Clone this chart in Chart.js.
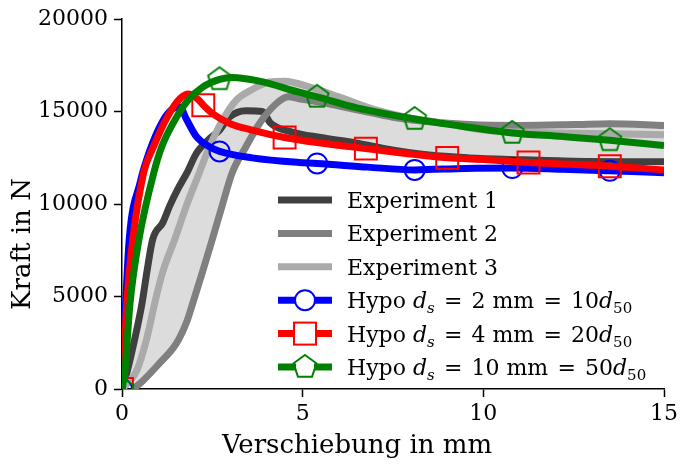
<!DOCTYPE html>
<html>
<head>
<meta charset="utf-8">
<script src="https://cdn.jsdelivr.net/npm/chart.js@4.4.0/dist/chart.umd.min.js"></script>
<style>
  html, body { margin: 0; padding: 0; background: #fff; }
</style>
</head>
<body>
<canvas id="kraftChart" width="682" height="466"></canvas>
<script>
// Werte: Verschiebung in mm (x), Kraft in N (y)
const exp1X = [0, 0.15, 0.36, 0.55, 0.69, 0.85, 1.13, 1.32, 1.54, 1.8, 2.06, 2.4, 2.7, 2.97, 3.43, 3.9, 4.1, 4.7, 5.5, 6.5, 7.4, 8.5, 9.6, 11, 12.5, 15];
const exp1Y = [0, 1000, 2770, 4590, 6350, 8100, 9000, 9900, 10800, 11700, 12750, 13500, 14000, 14700, 15050, 15000, 14400, 13900, 13600, 13300, 12950, 12650, 12500, 12400, 12320, 12290];

const exp2X = [0.3, 0.5, 1.04, 1.5, 1.8, 1.95, 2.23, 2.5, 2.77, 3.05, 3.43, 3.8, 4.25, 4.6, 4.9, 5.5, 6.5, 7.5, 8.5, 9.6, 11, 12.5, 13.5, 15];
const exp2Y = [0, 300, 1400, 2450, 3680, 4590, 6350, 8100, 9900, 11700, 13100, 14350, 15400, 15800, 15700, 15500, 15100, 14700, 14450, 14300, 14250, 14300, 14350, 14250];

const exp3X = [0, 0.15, 0.41, 0.69, 0.9, 1.13, 1.46, 1.78, 2.14, 2.42, 2.77, 3.15, 3.6, 4.07, 4.5, 5.25, 6, 7.1, 8, 9, 10, 11, 12, 13.5, 15];
const exp3Y = [0, 300, 1000, 2770, 4590, 6350, 8100, 9900, 11700, 13100, 14500, 15600, 16200, 16600, 16650, 16300, 15800, 15050, 14650, 14350, 14000, 13900, 13850, 13800, 13750];

const hypo2X = [0, 0.04, 0.1, 0.2, 0.5, 0.77, 1.13, 1.4, 1.6, 1.78, 2.06, 2.42, 2.7, 3.6, 4.9, 5.4, 6.8, 8.1, 9.5, 10.8, 12.2, 13.5, 15];
const hypo2Y = [0, 1800, 4590, 8100, 11150, 12900, 14500, 15150, 15250, 14600, 13650, 13100, 12850, 12500, 12250, 12200, 12000, 11850, 11930, 11950, 11880, 11800, 11700];
const hypo2Marks = [0, 2.7, 5.4, 8.1, 10.8, 13.5];

const hypo4X = [0, 0.05, 0.13, 0.3, 0.6, 0.87, 1.25, 1.6, 1.85, 2.14, 2.25, 2.5, 3.0, 3.6, 4.5, 5.5, 6.75, 7.8, 9.0, 10.1, 11.25, 12.4, 13.5, 15];
const hypo4Y = [0, 1500, 4590, 8100, 11700, 13100, 14700, 15700, 15950, 15600, 15350, 14900, 14350, 14000, 13600, 13300, 13000, 12750, 12500, 12400, 12250, 12150, 12050, 11850];
const hypo4Marks = [0, 2.25, 4.5, 6.75, 9.0, 11.25, 13.5];

const hypo10X = [0, 0.08, 0.22, 0.47, 0.88, 1.1, 1.45, 1.82, 2.25, 2.7, 3.05, 3.8, 4.9, 5.4, 6.5, 8.1, 9.8, 10.8, 12.2, 13.5, 15];
const hypo10Y = [0, 1000, 4590, 8100, 11700, 13100, 14500, 15600, 16350, 16750, 16850, 16650, 16050, 15800, 15200, 14600, 14100, 13850, 13650, 13450, 13170];
const hypo10Marks = [0, 2.7, 5.4, 8.1, 10.8, 13.5];

const xTicks = [0, 5, 10, 15];
const yTicks = [0, 5000, 10000, 15000, 20000];

// Legendentexte, Teile: n = normal, i = kursiv, is = kursiv tief, s = tief
const legendLabels = [
  [['Experiment 1', 'n']],
  [['Experiment 2', 'n']],
  [['Experiment 3', 'n']],
  [['Hypo ', 'n'], ['d', 'i'], ['s', 'is'], [' \u200A=\u200A 2 mm \u200A=\u200A 10', 'n'], ['d', 'i'], ['50', 's']],
  [['Hypo ', 'n'], ['d', 'i'], ['s', 'is'], [' \u200A=\u200A 4 mm \u200A=\u200A 20', 'n'], ['d', 'i'], ['50', 's']],
  [['Hypo ', 'n'], ['d', 'i'], ['s', 'is'], [' \u200A=\u200A 10 mm \u200A=\u200A 50', 'n'], ['d', 'i'], ['50', 's']]
];

const FONT = '"DejaVu Serif", serif';

function pts(xs, ys) {
  return xs.map((x, i) => ({ x: x, y: ys[i] }));
}

// Fuenfeck als Punktstil (Chart.js hat keins)
function makePentagon(color, r, lw) {
  const size = 2 * Math.ceil(r + lw);
  const c = document.createElement('canvas');
  c.width = size; c.height = size;
  const g = c.getContext('2d');
  g.strokeStyle = color;
  g.lineWidth = lw;
  g.lineJoin = 'miter';
  g.beginPath();
  for (let k = 0; k < 5; k++) {
    const a = -Math.PI / 2 + k * 2 * Math.PI / 5;
    const px = size / 2 + r * Math.cos(a);
    const py = size / 2 + r * Math.sin(a);
    if (k === 0) g.moveTo(px, py); else g.lineTo(px, py);
  }
  g.closePath();
  g.stroke();
  return c;
}
const pentagon = makePentagon('#008000', 12, 2);

function markRadius(marks, r) {
  return ctx => (ctx.raw && marks.includes(ctx.raw.x)) ? r : 0;
}

const greyFill = '#dcdcdc';

const expStyle = {
  borderWidth: 7, pointRadius: 0, pointHoverRadius: 0,
  cubicInterpolationMode: 'monotone', clip: 0
};
const hypoStyle = {
  borderWidth: 7, pointBorderWidth: 2, pointBackgroundColor: 'rgba(0,0,0,0)',
  pointHoverRadius: 0, cubicInterpolationMode: 'monotone', clip: 0, fill: false
};

// Legende, Achsentitel
const extrasPlugin = {
  id: 'extras',
  afterDraw(chart) {
    const ctx = chart.ctx;
    ctx.save();
    ctx.fillStyle = '#000';
    ctx.font = '26px ' + FONT;
    ctx.textAlign = 'center';
    ctx.textBaseline = 'middle';
    ctx.fillText('Verschiebung in mm', 357, 446);
    ctx.translate(23, 244);
    ctx.rotate(-Math.PI / 2);
    ctx.fillText('Kraft in N', 0, 0);
    ctx.restore();

    const x0 = 278, x1 = 332, tx = 347, y0 = 200, dy = 33.4;
    ctx.save();
    chart.data.datasets.forEach((ds, row) => {
      const y = y0 + row * dy;
      ctx.strokeStyle = ds.borderColor;
      ctx.lineWidth = 7;
      ctx.beginPath();
      ctx.moveTo(x0, y);
      ctx.lineTo(x1, y);
      ctx.stroke();
      const mx = (x0 + x1) / 2;
      ctx.lineWidth = 2;
      if (ds.pointStyle === 'circle') {
        ctx.beginPath();
        ctx.arc(mx, y, 10, 0, 2 * Math.PI);
        ctx.fillStyle = '#fff';
        ctx.fill();
        ctx.stroke();
      } else if (ds.pointStyle === 'rect') {
        ctx.fillStyle = '#fff';
        ctx.fillRect(mx - 11, y - 11, 22, 22);
        ctx.strokeRect(mx - 11, y - 11, 22, 22);
      } else if (ds.pointStyle instanceof HTMLCanvasElement) {
        ctx.fillStyle = '#fff';
        ctx.fillRect(mx - 9, y - 9, 18, 18);
        ctx.drawImage(ds.pointStyle, mx - ds.pointStyle.width / 2, y - ds.pointStyle.height / 2);
      }
      // Text mit Formelteilen
      let cx = tx;
      ctx.fillStyle = '#000';
      ctx.textAlign = 'left';
      ctx.textBaseline = 'alphabetic';
      const base = y + 8;
      legendLabels[row].forEach(([t, kind]) => {
        let f = '22px ' + FONT, off = 0;
        if (kind === 'i') f = 'italic 22px ' + FONT;
        if (kind === 'is') { f = 'italic 15px ' + FONT; off = 5; }
        if (kind === 's') { f = '15px ' + FONT; off = 5; }
        ctx.font = f;
        ctx.fillText(t, cx, base + off);
        cx += ctx.measureText(t).width;
      });
    });
    ctx.restore();
  }
};

const ctx = document.getElementById('kraftChart').getContext('2d');
const kraftChart = new Chart(ctx, {
  type: 'line',
  data: {
    datasets: [
      Object.assign({ label: 'Experiment 1', data: pts(exp1X, exp1Y), borderColor: '#404040', fill: false, order: 6 }, expStyle),
      Object.assign({ label: 'Experiment 2', data: pts(exp2X, exp2Y), borderColor: '#808080', backgroundColor: greyFill, fill: '-1', order: 5 }, expStyle),
      Object.assign({ label: 'Experiment 3', data: pts(exp3X, exp3Y), borderColor: '#aaaaaa', backgroundColor: greyFill, fill: '-2', order: 4 }, expStyle),
      Object.assign({ label: 'Hypo 2 mm', data: pts(hypo2X, hypo2Y), borderColor: '#0000ff', pointBorderColor: '#0000ff',
        pointStyle: 'circle', pointRadius: markRadius(hypo2Marks, 10), order: 3 }, hypoStyle),
      Object.assign({ label: 'Hypo 4 mm', data: pts(hypo4X, hypo4Y), borderColor: '#ff0000', pointBorderColor: '#ff0000',
        pointStyle: 'rect', pointRadius: markRadius(hypo4Marks, 15.5), order: 2 }, hypoStyle),
      Object.assign({ label: 'Hypo 10 mm', data: pts(hypo10X, hypo10Y), borderColor: '#008000', pointBorderColor: '#008000',
        pointStyle: pentagon, pointRadius: markRadius(hypo10Marks, 10), order: 1 }, hypoStyle)
    ]
  },
  options: {
    responsive: false,
    animation: false,
    devicePixelRatio: 1,
    layout: { padding: { top: 14, right: 14, left: 0, bottom: 0 } },
    plugins: {
      legend: { display: false },
      tooltip: { enabled: false },
      filler: { drawTime: 'beforeDatasetsDraw' }
    },
    scales: {
      x: {
        type: 'linear', min: 0, max: 15,
        afterBuildTicks: s => { s.ticks = xTicks.map(v => ({ value: v })); },
        afterFit: s => { s.height = 77; },
        ticks: { color: '#000', font: { family: FONT, size: 22 }, padding: 4, maxRotation: 0 },
        grid: { drawOnChartArea: false, tickLength: 8, tickColor: '#000', tickWidth: 1.5 },
        border: { color: '#000', width: 1.5 }
      },
      y: {
        type: 'linear', min: 0, max: 20000,
        afterBuildTicks: s => { s.ticks = yTicks.map(v => ({ value: v })); },
        afterFit: s => { s.width = 122; },
        ticks: { color: '#000', font: { family: FONT, size: 22 }, padding: 6, callback: v => String(v) },
        grid: { drawOnChartArea: false, tickLength: 8, tickColor: '#000', tickWidth: 1.5 },
        border: { color: '#000', width: 1.5 }
      }
    }
  },
  plugins: [extrasPlugin]
});
</script>
</body>
</html>
